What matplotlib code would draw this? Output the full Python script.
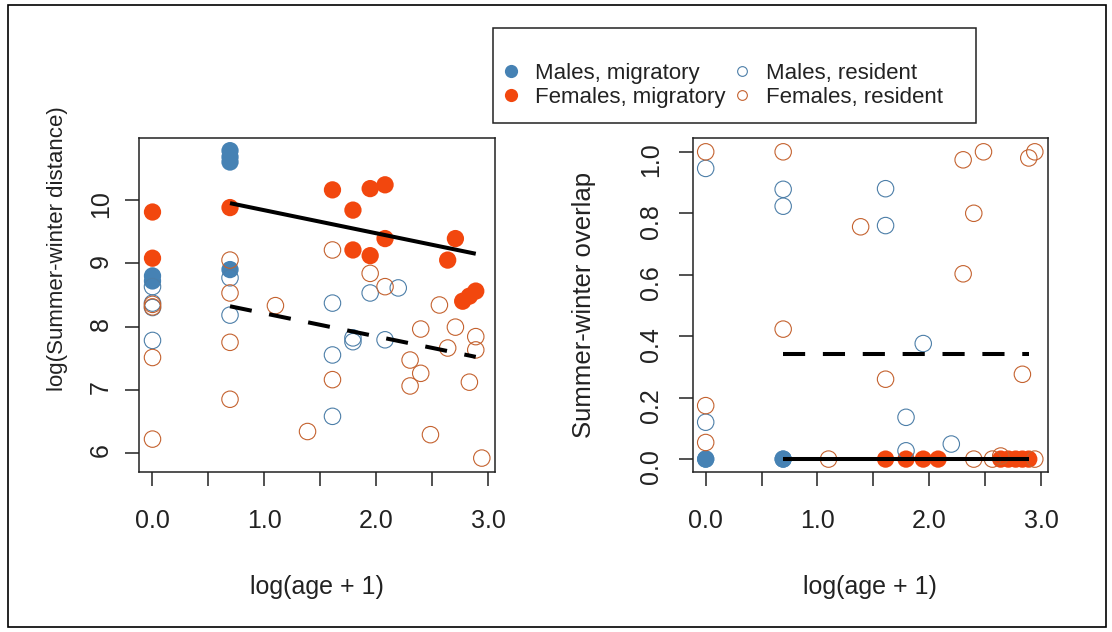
import matplotlib
matplotlib.use("Agg")
import matplotlib.pyplot as plt
from matplotlib.lines import Line2D
from matplotlib.patches import Rectangle
import numpy as np

plt.rcParams['font.family'] = ['Liberation Sans', 'DejaVu Sans']

# ---------------- data: left panel (log summer-winter distance) ----------------
dist_male_mig_x = [0.0, 0.0, 0.693, 0.693, 0.693, 0.693]
dist_male_mig_y = [8.80, 8.72, 10.78, 10.68, 10.60, 8.90]

dist_fem_mig_x = [0.0, 0.0, 0.693, 1.609, 1.792, 1.792, 1.946, 1.946, 2.079, 2.079,
                  2.639, 2.708, 2.773, 2.833, 2.890]
dist_fem_mig_y = [9.81, 9.08, 9.88, 10.16, 9.84, 9.21, 10.18, 9.12, 10.24, 9.39,
                  9.05, 9.39, 8.40, 8.48, 8.56]

dist_male_res_x = [0.0, 0.0, 0.0, 0.0, 0.693, 0.693, 1.609, 1.609, 1.609, 1.792, 1.792,
                   1.946, 2.079, 2.197]
dist_male_res_y = [8.63, 8.37, 8.30, 7.78, 8.77, 8.18, 8.37, 7.55, 6.58, 7.82, 7.76,
                   8.53, 7.79, 8.61]

dist_fem_res_x = [0.0, 0.0, 0.0, 0.0, 0.693, 0.693, 0.693, 0.693, 1.099, 1.386, 1.609, 1.609,
                  1.946, 2.079, 2.303, 2.303, 2.398, 2.398, 2.485, 2.565, 2.639, 2.708,
                  2.833, 2.890, 2.890, 2.944]
dist_fem_res_y = [8.35, 8.31, 7.51, 6.22, 9.05, 8.53, 7.75, 6.85, 8.33, 6.34, 9.21, 7.16,
                  8.84, 8.63, 7.47, 7.06, 7.96, 7.26, 6.29, 8.34, 7.66, 7.99,
                  7.12, 7.84, 7.63, 5.92]

dist_fit_x = [0.693, 2.890]
dist_fit_mig_y = [9.95, 9.15]
dist_fit_res_y = [8.32, 7.52]

# ---------------- data: right panel (summer-winter overlap) ----------------
ovl_male_mig_x = [0.0, 0.0, 0.693, 0.693]
ovl_male_mig_y = [0.0, 0.0, 0.0, 0.0]

ovl_fem_mig_x = [1.609, 1.792, 1.946, 2.079, 2.639, 2.708, 2.773, 2.833, 2.890]
ovl_fem_mig_y = [0.0, 0.0, 0.0, 0.0, 0.0, 0.0, 0.0, 0.0, 0.0]

ovl_male_res_x = [0.0, 0.0, 0.693, 0.693, 1.609, 1.609, 1.792, 1.792, 1.946, 2.197]
ovl_male_res_y = [0.946, 0.12, 0.878, 0.823, 0.88, 0.76, 0.136, 0.027, 0.376, 0.049]

ovl_fem_res_x = [0.0, 0.0, 0.0, 0.693, 0.693, 1.099, 1.386, 1.609, 2.303, 2.303, 2.398,
                 2.398, 2.485, 2.565, 2.639, 2.833, 2.890, 2.944, 2.944]
ovl_fem_res_y = [1.0, 0.174, 0.054, 1.0, 0.423, 0.0, 0.756, 0.26, 0.974, 0.603, 0.80,
                 0.0, 1.0, 0.0, 0.01, 0.276, 0.98, 1.0, 0.0]

ovl_fit_x = [0.693, 2.890]
ovl_fit_mig_y = [0.0, 0.0]
ovl_fit_res_y = [0.341, 0.341]

legend_labels = ["Males, migratory", "Females, migratory", "Males, resident", "Females, resident"]
xtick_pos = [0.0, 0.5, 1.0, 1.5, 2.0, 2.5, 3.0]
xtick_lab = ["0.0", "", "1.0", "", "2.0", "", "3.0"]

# ---------------- styles ----------------
BLUE = '#4682B4'
ORANGE = '#F2470E'
BLUE_O = '#4C7EA8'
ORANGE_O = '#C4622F'
S_FILL = 155
S_OPEN = 140
W, H = 1112, 632

fig = plt.figure(figsize=(W / 100, H / 100), dpi=100)

def px_rect(x0, y0, x1, y1):
    return [x0 / W, 1 - y1 / H, (x1 - x0) / W, (y1 - y0) / H]

axL = fig.add_axes(px_rect(139.3, 138, 495, 472))
axR = fig.add_axes(px_rect(692.5, 138, 1048, 472))

def draw(ax, mmx, mmy, fmx, fmy, mrx, mry, frx, fry, fx, fmig, fres):
    ax.scatter(mmx, mmy, s=S_FILL, c=BLUE, edgecolors='none', zorder=2)
    ax.scatter(fmx, fmy, s=S_FILL, c=ORANGE, edgecolors='none', zorder=2)
    ax.scatter(mrx, mry, s=S_OPEN, facecolors='none', edgecolors=BLUE_O, linewidths=0.8, zorder=3)
    ax.scatter(frx, fry, s=S_OPEN, facecolors='none', edgecolors=ORANGE_O, linewidths=0.8, zorder=3)
    ax.plot(fx, fmig, color='black', lw=2.9, solid_capstyle='butt', zorder=4)
    ax.plot(fx, fres, color='black', lw=2.9, dashes=(5.5, 4.4), dash_capstyle='butt', zorder=4)
    ax.set_xlim(-0.118, 3.062)
    ax.set_xticks(xtick_pos)
    ax.set_xticklabels(xtick_lab)
    for sp in ax.spines.values():
        sp.set_linewidth(1.1)
        sp.set_color('#222222')
    ax.tick_params(axis='both', direction='out', length=10, width=1.1, color='#222222',
                   labelsize=18, labelcolor='#222222')
    ax.tick_params(axis='x', pad=17)
    ax.tick_params(axis='y', labelrotation=90)
    ax.set_xlabel("log(age + 1)", fontsize=18, color='#222222')

draw(axL, dist_male_mig_x, dist_male_mig_y, dist_fem_mig_x, dist_fem_mig_y,
     dist_male_res_x, dist_male_res_y, dist_fem_res_x, dist_fem_res_y,
     dist_fit_x, dist_fit_mig_y, dist_fit_res_y)
draw(axR, ovl_male_mig_x, ovl_male_mig_y, ovl_fem_mig_x, ovl_fem_mig_y,
     ovl_male_res_x, ovl_male_res_y, ovl_fem_res_x, ovl_fem_res_y,
     ovl_fit_x, ovl_fit_mig_y, ovl_fit_res_y)

axL.set_ylim(5.70, 10.98)
axL.set_yticks([6, 7, 8, 9, 10])
axL.tick_params(axis='y', pad=9)
axL.set_ylabel("log(Summer-winter distance)", fontsize=16, color='#222222')
axL.yaxis.set_label_coords(-0.231, (472 - 249) / 334)
axL.xaxis.set_label_coords(0.5, -0.344)
axL.xaxis.label.set_va('center')
axL.yaxis.label.set_va('center')

axR.set_ylim(-0.042, 1.045)
axR.set_yticks([0.0, 0.2, 0.4, 0.6, 0.8, 1.0])
axR.set_yticklabels(["0.0", "0.2", "0.4", "0.6", "0.8", "1.0"])
axR.tick_params(axis='y', pad=11)
axR.set_ylabel("Summer-winter overlap", fontsize=18.5, color='#222222')
axR.yaxis.set_label_coords(-0.304, 0.5)
axR.xaxis.set_label_coords(0.5, -0.344)
axR.xaxis.label.set_va('center')
axR.yaxis.label.set_va('center')

# legend
handles = [
    Line2D([], [], ls='none', marker='o', ms=9.5, mfc=BLUE, mec='none'),
    Line2D([], [], ls='none', marker='o', ms=9.5, mfc=ORANGE, mec='none'),
    Line2D([], [], ls='none', marker='o', ms=7, mfc='none', mec=BLUE_O, mew=0.8),
    Line2D([], [], ls='none', marker='o', ms=7, mfc='none', mec=ORANGE_O, mew=0.8),
]
leg = fig.legend(handles, legend_labels, ncol=2, loc='upper left',
                 bbox_to_anchor=(499.6 / W, 1 - 63 / H), bbox_transform=fig.transFigure,
                 frameon=False, fontsize=16, borderpad=0, borderaxespad=0,
                 handlelength=1.0, handletextpad=0.59, columnspacing=0.25,
                 labelspacing=0.12)
for t in leg.get_texts():
    t.set_color('#222222')

fig.patches.append(Rectangle((492.7 / W, 1 - 122.7 / H), (976 - 492.7) / W, (122.7 - 28.3) / H,
                             transform=fig.transFigure, fill=False, ec='#222222', lw=1.1))
# outer frame
fig.patches.append(Rectangle((8 / W, 1 - 627 / H), (1106 - 8) / W, (627 - 5) / H,
                             transform=fig.transFigure, fill=False, ec='black', lw=1.2))

fig.savefig("out.png", dpi=100)
